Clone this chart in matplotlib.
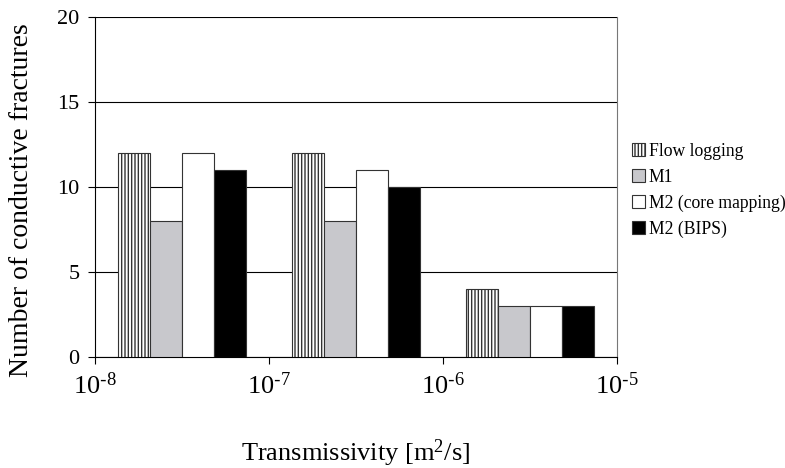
import numpy as np
import matplotlib
matplotlib.use('Agg')
import matplotlib.pyplot as plt
from matplotlib.ticker import FuncFormatter

plt.rcParams['font.family'] = ['Liberation Serif', 'DejaVu Serif']
plt.rcParams['mathtext.default'] = 'regular'
plt.rcParams['hatch.linewidth'] = 1.0

# transmissivity classes (log10 of lower bound), bars centred in each decade
decades = [-8, -7, -6]
series = ['Flow logging', 'M1', 'M2 (core mapping)', 'M2 (BIPS)']
flow_logging = [12, 12, 4]
m1 = [8, 8, 3]
m2_core = [12, 11, 3]
m2_bips = [11, 10, 3]
x_ticks = [-8, -7, -6, -5]

values = [flow_logging, m1, m2_core, m2_bips]
faces = ['white', '#c8c8cc', 'white', 'black']
hatches = ['|||||', None, None, None]

fig = plt.figure(figsize=(7.85, 4.68), dpi=100)
ax = fig.add_axes([0.121, 0.237, 0.665, 0.727])

width = 0.1825
centers = np.array(decades) + 0.5
for i, (name, vals) in enumerate(zip(series, values)):
    pos = centers + (i - 1.5) * width
    ax.bar(pos, vals, width=width, color=faces[i], edgecolor='#333333',
           linewidth=0.8, hatch=hatches[i], label=name, zorder=3)

def exp_label(v, pos):
    return r'10$^{\text{-}%d}$' % abs(round(v))

ax.set_xlim(-8, -5)
ax.set_ylim(0, 20)
ax.set_xticks(x_ticks)
ax.xaxis.set_major_formatter(FuncFormatter(exp_label))
ax.set_yticks([0, 5, 10, 15, 20])
ax.yaxis.grid(True, color='black', linewidth=0.8, zorder=0)
ax.set_axisbelow(True)

ax.spines['top'].set_visible(False)
ax.spines['right'].set_color('#777777')
ax.tick_params(axis='both', length=5, direction='out')
ax.tick_params(axis='y', labelsize=16, pad=6)
ax.tick_params(axis='x', labelsize=19, pad=6)

ax.set_ylabel('Number of conductive fractures', fontsize=20)
ax.yaxis.set_label_coords(-0.117, 0.46)
ax.set_xlabel('Transmissivity [m$^2$/s]', fontsize=19)
ax.xaxis.set_label_coords(0.5, -0.235)

ax.legend(loc='center left', bbox_to_anchor=(1.029, 0.49), frameon=False,
          fontsize=12.7, handlelength=0.75, handleheight=0.75, handletextpad=0.2,
          labelspacing=0.5, borderaxespad=0, borderpad=0)

fig.savefig('out.png', dpi=100)
